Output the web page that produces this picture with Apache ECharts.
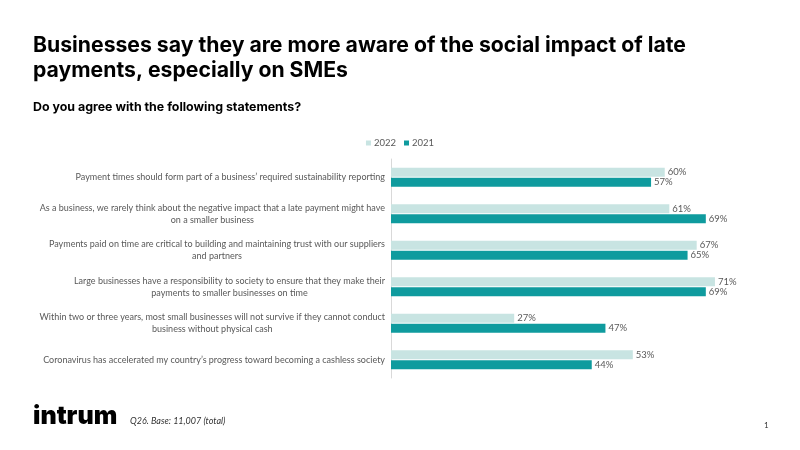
<!DOCTYPE html>
<html>
<head>
<meta charset="utf-8">
<script src="https://cdn.jsdelivr.net/npm/echarts@6/dist/echarts.min.js"></script>
<style>
html, body { margin: 0; padding: 0; background: #fff; }
#chart { width: 800px; height: 450px; }
</style>
</head>
<body>
<div id="chart"></div>
<script>
// statements, top to bottom
var statements = [
	'Payment times should form part of a business\u2019 required sustainability reporting',
	'As a business, we rarely think about the negative impact that a late payment might have\non a smaller business',
	'Payments paid on time are critical to building and maintaining trust with our suppliers\nand partners',
	'Large businesses have a responsibility to society to ensure that they make their\npayments to smaller businesses on time',
	'Within two or three years, most small businesses will not survive if they cannot conduct\nbusiness without physical cash',
	'Coronavirus has accelerated my country\u2019s progress toward becoming a cashless society'
];
var values2022 = [60, 61, 67, 71, 27, 53];
var values2021 = [57, 69, 65, 69, 47, 44];

var chart = echarts.init(document.getElementById('chart'));
var font = 'Lato, "Open Sans", sans-serif';
var head = 'Inter, Roboto, sans-serif';

function barLabel() {
	return {
		show: true,
		position: 'right',
		distance: 3,
		formatter: '{c}%',
		fontFamily: font,
		fontSize: 9.5,
		color: '#595959'
	};
}

var option = {
	backgroundColor: '#fff',
	animation: false,
	title: [{
		text: 'Businesses say they are more aware of the social impact of late\npayments, especially on SMEs',
		left: 28,
		top: 28,
		textStyle: {
			fontFamily: head,
			fontWeight: 'bold',
			fontSize: 21.2,
			lineHeight: 25,
			color: '#000'
		}
	}, {
		text: 'Do you agree with the following statements?',
		left: 28,
		top: 96,
		textStyle: {
			fontFamily: head,
			fontWeight: 'bold',
			fontSize: 12.4,
			color: '#000'
		}
	}, {
		text: 'intrum',
		left: 28,
		top: 399,
		textStyle: {
			fontFamily: head,
			fontWeight: 900,
			fontSize: 25,
			color: '#000'
		}
	}, {
		text: 'Q26. Base: 11,007 (total)',
		left: 125,
		top: 412,
		textStyle: {
			fontFamily: font,
			fontStyle: 'italic',
			fontWeight: 'normal',
			fontSize: 9,
			color: '#333'
		}
	}, {
		text: '1',
		left: 759,
		top: 416,
		textStyle: {
			fontFamily: font,
			fontWeight: 'normal',
			fontSize: 8,
			color: '#333'
		}
	}],
	legend: {
		top: 133,
		left: 'center',
		itemWidth: 5,
		itemHeight: 5,
		itemGap: 8,
		icon: 'rect',
		textStyle: {
			fontFamily: font,
			fontSize: 9.5,
			color: '#595959',
			padding: [0, 0, 0, -2]
		},
		data: ['2022', '2021']
	},
	grid: {
		left: 391,
		right: 44,
		top: 159,
		bottom: 72
	},
	xAxis: {
		type: 'value',
		min: 0,
		max: 80,
		show: false
	},
	yAxis: {
		type: 'category',
		inverse: true,
		data: statements,
		axisLine: { show: true, lineStyle: { color: '#d9d9d9', width: 1 } },
		axisTick: { show: false },
		axisLabel: {
			align: 'right',
			margin: 6,
			formatter: function (v) {
				return v.split('\n').map(function (s) { return '{c|' + s + '}'; }).join('\n');
			},
			rich: {
				c: {
					align: 'center',
					fontFamily: font,
					fontSize: 9,
					lineHeight: 12,
					color: '#595959'
				}
			}
		}
	},
	series: [{
		name: '2022',
		type: 'bar',
		data: values2022,
		barWidth: 9,
		barGap: '10%',
		itemStyle: { color: '#c8e4e2' },
		label: barLabel()
	}, {
		name: '2021',
		type: 'bar',
		data: values2021,
		barWidth: 9,
		barGap: '10%',
		itemStyle: { color: '#0f9b9e' },
		label: barLabel()
	}]
};
chart.setOption(option);
</script>
</body>
</html>
